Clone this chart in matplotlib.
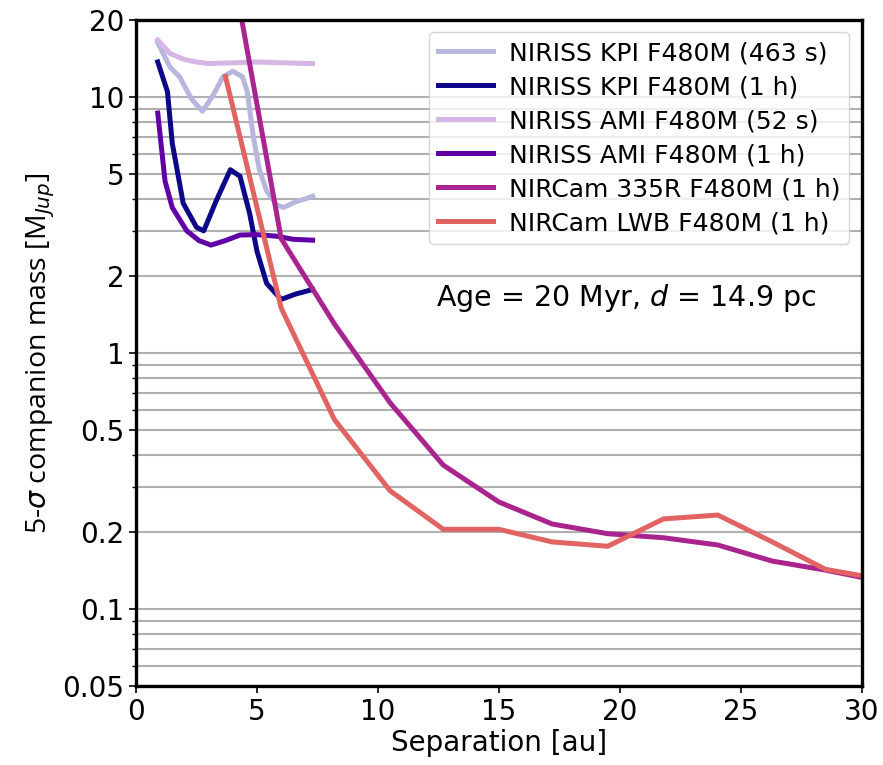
import matplotlib
matplotlib.use("Agg")
import matplotlib.pyplot as plt
from matplotlib.ticker import FixedLocator, FixedFormatter, LogLocator, NullFormatter

# separations [au] and 5-sigma mass limits [M_Jup]
kpi_short_x = [0.9, 1.4, 1.8, 2.3, 2.75, 3.2, 3.6, 4.0, 4.4, 4.6, 4.85, 5.1, 5.4, 5.8, 6.1, 6.6, 7.0, 7.3]
kpi_short_y = [16.3, 13.1, 12.0, 9.8, 8.8, 10.2, 12.0, 12.6, 12.0, 10.5, 7.0, 5.2, 4.3, 3.8, 3.7, 3.9, 4.0, 4.1]

kpi_long_x = [0.9, 1.3, 1.5, 1.95, 2.5, 2.8, 3.3, 3.9, 4.3, 4.7, 5.0, 5.4, 6.0, 6.6, 7.3]
kpi_long_y = [13.7, 10.5, 6.6, 3.85, 3.1, 3.0, 3.9, 5.2, 4.9, 3.5, 2.5, 1.87, 1.62, 1.7, 1.77]

ami_short_x = [0.9, 1.4, 2.0, 2.5, 3.0, 4.0, 5.0, 6.0, 7.3]
ami_short_y = [16.7, 14.8, 14.0, 13.7, 13.5, 13.6, 13.7, 13.6, 13.5]

ami_long_x = [0.9, 1.2, 1.5, 2.1, 2.6, 3.1, 3.7, 4.3, 5.0, 5.8, 6.5, 7.3]
ami_long_y = [8.65, 4.7, 3.7, 3.0, 2.75, 2.64, 2.75, 2.89, 2.9, 2.86, 2.78, 2.76]

nrc_x = [3.7, 6.0, 8.2, 10.5, 12.7, 15.0, 17.2, 19.5, 21.8, 24.05, 26.3, 28.5, 30.0]
nrc335_y = [45.0, 2.8, 1.3, 0.64, 0.365, 0.262, 0.215, 0.197, 0.19, 0.178, 0.154, 0.142, 0.133]
nrclwb_y = [12.0, 1.5, 0.55, 0.29, 0.205, 0.205, 0.183, 0.176, 0.225, 0.233, 0.183, 0.143, 0.135]

labels = ["NIRISS KPI F480M (463 s)", "NIRISS KPI F480M (1 h)",
          "NIRISS AMI F480M (52 s)", "NIRISS AMI F480M (1 h)",
          "NIRCam 335R F480M (1 h)", "NIRCam LWB F480M (1 h)"]
colors = ["#b7b6dc", "#0d0887", "#d5b6e6", "#6200a7", "#a9248f", "#e16462"]

ytick_vals = [0.05, 0.1, 0.2, 0.5, 1, 2, 5, 10, 20]
ytick_labels = ["0.05", "0.1", "0.2", "0.5", "1", "2", "5", "10", "20"]

fig = plt.figure(figsize=(8.83, 7.65), dpi=100)
ax = fig.add_axes([0.154, 0.103, 0.822, 0.871])

series = [(kpi_short_x, kpi_short_y), (kpi_long_x, kpi_long_y),
          (ami_short_x, ami_short_y), (ami_long_x, ami_long_y),
          (nrc_x, nrc335_y), (nrc_x, nrclwb_y)]
for (xs, ys), c, lab in zip(series, colors, labels):
    ax.plot(xs, ys, color=c, lw=3.6, label=lab)

ax.set_yscale("log")
ax.set_xlim(0, 30)
ax.set_ylim(0.05, 20)
ax.yaxis.set_major_locator(FixedLocator(ytick_vals))
ax.yaxis.set_major_formatter(FixedFormatter(ytick_labels))
ax.yaxis.set_minor_locator(LogLocator(base=10, subs=range(2, 10)))
ax.yaxis.set_minor_formatter(NullFormatter())
ax.grid(axis="y", which="both", color="#b0b0b0", lw=1.5)
ax.set_axisbelow(True)

for s in ax.spines.values():
    s.set_linewidth(2.4)
ax.tick_params(labelsize=20, width=1.2, length=5)
ax.tick_params(which="minor", width=1, length=3)

ax.set_xlabel("Separation [au]", fontsize=20, labelpad=2)
ax.set_ylabel(r"5-$\sigma$ companion mass [M$_{Jup}$]", fontsize=20.5,
              family="Open Sans", labelpad=4)

ax.text(0.414, 0.583, r"Age = 20 Myr, $d$ = 14.9 pc", transform=ax.transAxes,
        fontsize=20.5, va="center", ha="left")

ax.legend(loc="upper right", fontsize=18, handlelength=2.2, borderaxespad=0.5,
          labelspacing=0.4, handletextpad=0.65, borderpad=0.35)

fig.savefig("out.png", dpi=100)
